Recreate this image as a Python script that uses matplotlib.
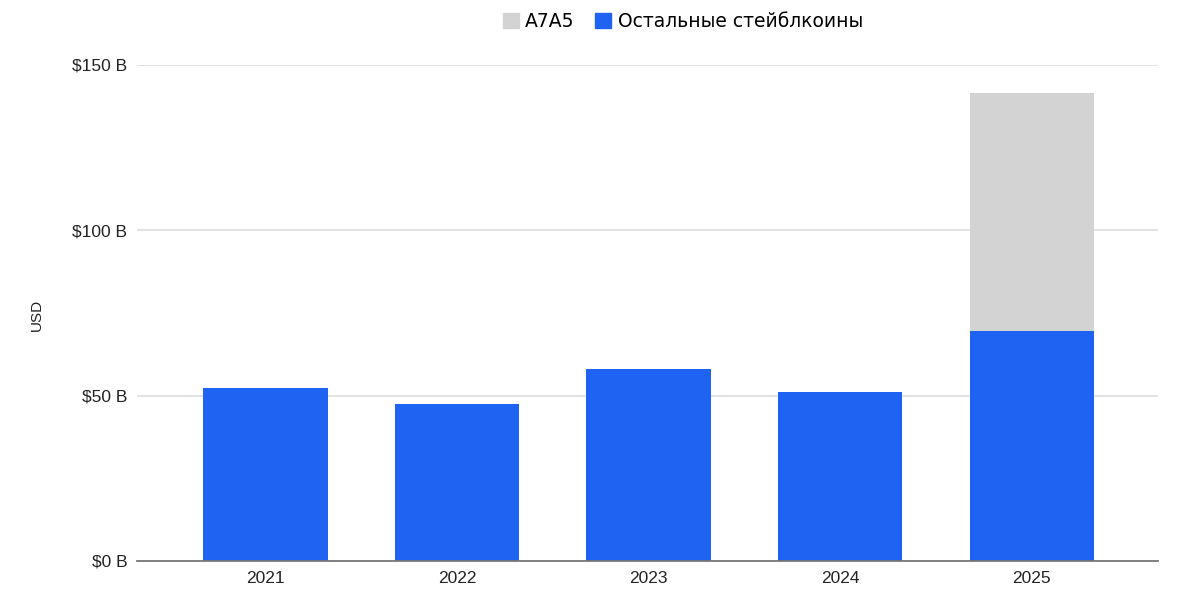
import matplotlib.pyplot as plt
from matplotlib.patches import Patch

# --- Data ---
years = ["2021", "2022", "2023", "2024", "2025"]
other_stablecoins = [52.3, 47.5, 58.1, 51.1, 69.5]
a7a5 = [0, 0, 0, 0, 72.0]

blue = "#1f63f2"
gray = "#d3d3d3"

fig = plt.figure(figsize=(12, 5.94), dpi=100)
ax = fig.add_axes([0.1142, 0.0556, 0.851, 0.835])

x = range(len(years))
ax.bar(x, other_stablecoins, width=0.65, color=blue, zorder=3)
ax.bar(x, a7a5, width=0.65, bottom=other_stablecoins, color=gray, zorder=3)

ax.set_xlim(-0.67, 4.66)
ax.set_ylim(0, 150)
ax.set_yticks([0, 50, 100, 150])
ax.set_yticklabels(["$0 B", "$50 B", "$100 B", "$150 B"],
                   family="Liberation Sans", fontsize=12.5, color="#222222")
ax.set_xticks(list(x))
ax.set_xticklabels(years, family="Liberation Sans", fontsize=12.5, color="#222222")
ax.tick_params(length=0, pad=7)
ax.tick_params(axis="y", pad=7)

ax.grid(axis="y", color="#dddddd", linewidth=1.2, zorder=0)
for s in ["top", "right", "left"]:
    ax.spines[s].set_visible(False)
ax.spines["bottom"].set_color("#777777")
ax.spines["bottom"].set_linewidth(1.3)
ax.spines["bottom"].set_zorder(4)

fig.text(0.031, 0.47, "USD", rotation=90, family="Liberation Sans",
         fontsize=11, color="#222222", ha="center", va="center")

handles = [Patch(color=gray, label="A7A5"),
           Patch(color=blue, label="Остальные стейблкоины")]
fig.legend(handles=handles, ncol=2, loc="upper center", bbox_to_anchor=(0.569, 1.008),
           frameon=False, fontsize=13.5, handlelength=0.85, handleheight=0.9,
           handletextpad=0.35, columnspacing=1.1)

plt.savefig("out.png")
